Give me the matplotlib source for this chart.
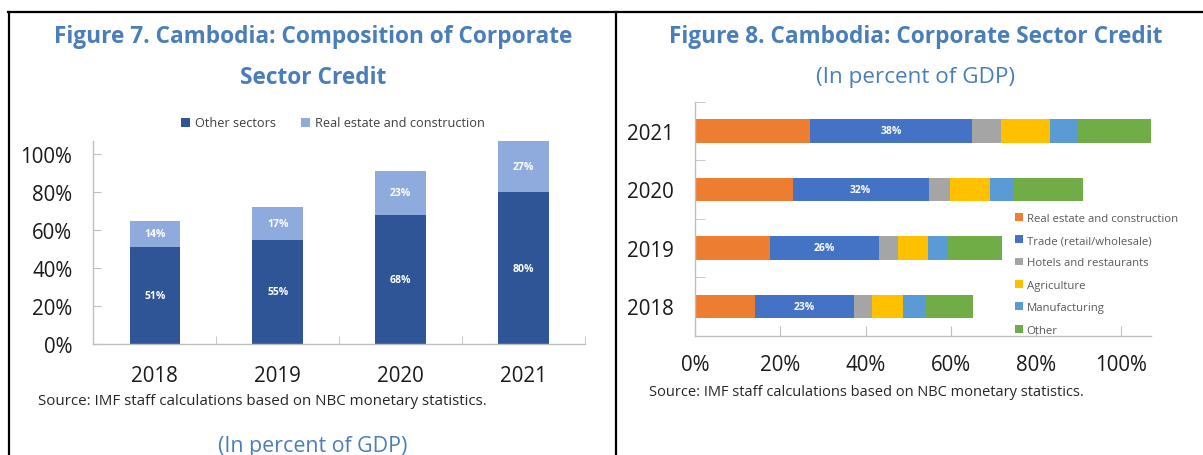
import matplotlib
matplotlib.use('Agg')
import matplotlib.pyplot as plt
from matplotlib.lines import Line2D
import numpy as np

# figure 7: composition of corporate credit (percent of GDP)
years = ['2018', '2019', '2020', '2021']
other_sectors = [51, 55, 68, 80]
real_estate = [14, 17, 23, 27]

# figure 8: corporate sector credit by sector (percent of GDP)
sectors = ['Real estate and construction', 'Trade (retail/wholesale)',
           'Hotels and restaurants', 'Agriculture', 'Manufacturing', 'Other']
re_constr = [14.0, 17.5, 22.9, 27.0]
trade = [23.4, 25.7, 31.9, 38.0]
hotels = [4.0, 4.3, 5.0, 6.7]
agriculture = [7.5, 7.1, 9.4, 11.5]
manufacturing = [5.0, 4.4, 5.5, 6.6]
other = [11.4, 13.0, 16.2, 17.3]

W, H = 1203, 456
TITLE_COL = '#4A7EBB'
SPINE_COL = '#BFBFBF'
SOURCE = 'Source: IMF staff calculations based on NBC monetary statistics.'

plt.rcParams['font.family'] = ['Open Sans', 'DejaVu Sans']


def fx(x):
  return x / W


def fy(y):
  return 1 - y / H


def styleAxes(ax):
  for s in ['top', 'right']:
    ax.spines[s].set_visible(False)
  for s in ['left', 'bottom']:
    ax.spines[s].set_color(SPINE_COL)
    ax.spines[s].set_linewidth(1.0)


def plotFig7(fig):
  ax = fig.add_axes([fx(93.3), fy(345), (585 - 93.3) / W, (345 - 141.7) / H])
  x = np.arange(len(years))
  w = 0.41
  b1 = ax.bar(x, other_sectors, w, color='#2F5597', label='Other sectors')
  b2 = ax.bar(x, real_estate, w, bottom=other_sectors, color='#8FAADC',
              label='Real estate and construction')
  for i in range(len(years)):
    ax.text(x[i], other_sectors[i] / 2, '%d%%' % other_sectors[i], ha='center', va='center',
            color='white', fontsize=7.5, fontweight='bold')
    ax.text(x[i], other_sectors[i] + real_estate[i] / 2, '%d%%' % real_estate[i],
            ha='center', va='center', color='white', fontsize=7.5, fontweight='bold')
  ax.set_xlim(-0.5, 3.5)
  ax.set_ylim(0, 107)
  ax.set_yticks(np.arange(0, 101, 20))
  ax.set_yticklabels(['%d%%' % v for v in range(0, 101, 20)])
  ax.set_xticks(x)
  ax.set_xticklabels(years)
  ax.set_xticks([0.5, 1.5, 2.5, 3.5], minor=True)
  styleAxes(ax)
  ax.tick_params(axis='y', which='major', direction='in', length=6, color=SPINE_COL,
                 labelsize=14.8, pad=15, labelcolor='#1a1a1a')
  ax.tick_params(axis='x', which='major', length=0, labelsize=14.8, pad=15, labelcolor='#1a1a1a')
  ax.tick_params(axis='x', which='minor', direction='in', length=6, color=SPINE_COL)
  ax.legend(handles=[b1, b2], loc='center', bbox_to_anchor=(fx(333), fy(124)),
            bbox_transform=fig.transFigure, ncol=2, frameon=False, fontsize=9.2,
            handlelength=0.7, handleheight=0.7, handletextpad=0.4, columnspacing=2.0,
            labelcolor='#404040')
  fig.text(fx(313), fy(37), 'Figure 7. Cambodia: Composition of Corporate', ha='center',
           va='center', fontsize=16.3, fontweight='bold', color=TITLE_COL)
  fig.text(fx(313), fy(78), 'Sector Credit', ha='center', va='center', fontsize=16.3,
           fontweight='bold', color=TITLE_COL)
  fig.text(fx(38), fy(402), SOURCE, ha='left', va='center', fontsize=10.9, color='#262626')
  fig.text(fx(313), fy(447), '(In percent of GDP)', ha='center', va='center', fontsize=15.4,
           color=TITLE_COL)


def plotFig8(fig):
  ax = fig.add_axes([fx(695), fy(336.7), (1150.8 - 695) / W, (336.7 - 102.7) / H])
  y = np.arange(len(years))
  h = 0.4
  series = [re_constr, trade, hotels, agriculture, manufacturing, other]
  colors = ['#ED7D31', '#4472C4', '#A5A5A5', '#FFC000', '#5B9BD5', '#70AD47']
  left = np.zeros(len(years))
  handles = []
  for i in range(len(series)):
    vals = np.array(series[i])
    bars = ax.barh(y, vals, h, left=left, color=colors[i], label=sectors[i])
    handles.append(bars)
    if i == 1:
      for j in range(len(years)):
        ax.text(left[j] + vals[j] / 2, y[j], '%d%%' % round(vals[j]), ha='center',
                va='center', color='white', fontsize=7.5, fontweight='bold')
    left = left + vals
  ax.set_ylim(-0.5, 3.5)
  ax.set_xlim(0, 106.9)
  ax.set_yticks(y)
  ax.set_yticklabels(years)
  ax.set_yticks([0.5, 1.5, 2.5, 3.5], minor=True)
  ax.set_xticks(np.arange(0, 101, 20))
  ax.set_xticklabels(['%d%%' % v for v in range(0, 101, 20)])
  styleAxes(ax)
  ax.tick_params(axis='y', which='major', length=0, labelsize=14.8, pad=15, labelcolor='#1a1a1a')
  ax.tick_params(axis='y', which='minor', direction='in', length=7, color=SPINE_COL)
  ax.tick_params(axis='x', which='major', direction='in', length=7, color=SPINE_COL,
                 labelsize=14.8, pad=13, labelcolor='#1a1a1a')
  ax.legend(handles=handles, loc='upper left', bbox_to_anchor=(fx(1009), fy(208)),
            bbox_transform=fig.transFigure, frameon=False, fontsize=8.2,
            handlelength=0.7, handleheight=0.7, handletextpad=0.35, labelspacing=1.0,
            borderpad=0, labelcolor='#595959')
  fig.text(fx(916), fy(37), 'Figure 8. Cambodia: Corporate Sector Credit', ha='center',
           va='center', fontsize=16.3, fontweight='bold', color=TITLE_COL)
  fig.text(fx(916), fy(77), '(In percent of GDP)', ha='center', va='center', fontsize=16.2,
           color=TITLE_COL)
  fig.text(fx(649), fy(393), SOURCE, ha='left', va='center', fontsize=10.5, color='#262626')


def drawBorders(fig):
  lw = 1.6
  fig.add_artist(Line2D([fx(8), 1], [fy(13), fy(13)], color='black', lw=lw,
                        transform=fig.transFigure))
  fig.add_artist(Line2D([fx(9.3), fx(9.3)], [fy(13), 0], color='black', lw=lw,
                        transform=fig.transFigure))
  fig.add_artist(Line2D([fx(615.7), fx(615.7)], [fy(13), 0], color='black', lw=lw,
                        transform=fig.transFigure))


def main():
  fig = plt.figure(figsize=(W / 100, H / 100), dpi=100)
  plotFig7(fig)
  plotFig8(fig)
  drawBorders(fig)
  fig.savefig('out.png', dpi=100)


if __name__ == "__main__":
  main()
